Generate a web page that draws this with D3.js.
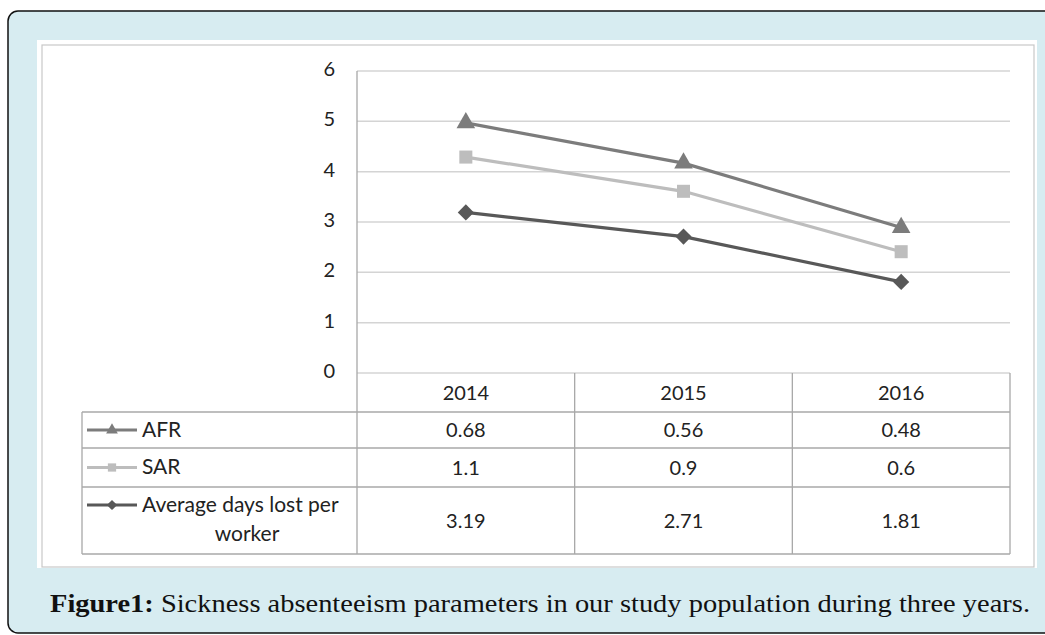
<!DOCTYPE html>
<html>
<head>
<meta charset="utf-8">
<script src="https://cdn.jsdelivr.net/npm/d3@7"></script>
<style>
  html, body { margin: 0; padding: 0; background: #fff; }
  svg { display: block; }
</style>
</head>
<body>
<div id="chart"></div>
<script>
const years = ['2014', '2015', '2016'];
const seriesNames = ['AFR', 'SAR', 'Average days lost per worker'];
const afr = [0.68, 0.56, 0.48];
const sar = [1.1, 0.9, 0.6];
const avgDays = [3.19, 2.71, 1.81];
const yTicks = [0, 1, 2, 3, 4, 5, 6];
const caption = 'Sickness absenteeism parameters in our study population during three years.';

const W = 1045, H = 635;
const svg = d3.select('#chart').append('svg')
  .attr('width', W)
  .attr('height', H);

// frame
svg.append('rect')
  .attr('x', 8).attr('y', 11)
  .attr('width', W + 20).attr('height', H - 13)
  .attr('rx', 10)
  .attr('fill', '#d7ecf1')
  .attr('stroke', '#111').attr('stroke-width', 1.5);

svg.append('rect')
  .attr('x', 37).attr('y', 40)
  .attr('width', 1000).attr('height', 528)
  .attr('fill', '#fff');

svg.append('rect')
  .attr('x', 42).attr('y', 45)
  .attr('width', 992).attr('height', 522)
  .attr('fill', 'none')
  .attr('stroke', '#c8c8c8').attr('stroke-width', 1.2);

// stacked line chart: avg at bottom, then SAR, then AFR
const rows = years.map((yr, i) => ({ year: yr, avg: avgDays[i], sar: sar[i], afr: afr[i] }));
const stack = d3.stack().keys(['avg', 'sar', 'afr'])(rows);

const x = d3.scaleBand().domain(years).range([357, 1010]);
const y = d3.scaleLinear().domain([0, 6]).range([373, 71]);

const font = 'Lato, "Open Sans", sans-serif';
const fs = 20;
const fsLabel = 21;

// gridlines
svg.append('g')
  .selectAll('line')
  .data(yTicks)
  .join('line')
  .attr('x1', 357).attr('x2', 1010)
  .attr('y1', d => y(d)).attr('y2', d => y(d))
  .attr('stroke', '#d4d4d4').attr('stroke-width', 1.5);

// y tick labels
svg.append('g')
  .selectAll('text')
  .data(yTicks)
  .join('text')
  .attr('x', 335)
  .attr('y', d => y(d) - 2)
  .attr('dy', '0.35em')
  .attr('text-anchor', 'end')
  .attr('font-family', font).attr('font-size', fs)
  .attr('fill', '#222')
  .text(d => d);

// data table
const rowTops = [412, 448, 487];
const rowBottoms = [448, 487, 554];
const tableLeft = 82;
const lineColor = '#a8a8a8';
const tbl = svg.append('g').attr('stroke', lineColor).attr('stroke-width', 1.3);

tbl.append('line').attr('x1', 357).attr('x2', 357).attr('y1', 71).attr('y2', 554);
x.domain().forEach(d => {
  tbl.append('line')
    .attr('x1', x(d) + x.bandwidth()).attr('x2', x(d) + x.bandwidth())
    .attr('y1', 373).attr('y2', 554);
});
tbl.append('line').attr('x1', tableLeft).attr('x2', tableLeft).attr('y1', 412).attr('y2', 554);
rowTops.concat([554]).forEach(v => {
  tbl.append('line').attr('x1', tableLeft).attr('x2', 1010).attr('y1', v).attr('y2', v);
});

// header
svg.append('g')
  .selectAll('text')
  .data(years)
  .join('text')
  .attr('x', d => x(d) + x.bandwidth() / 2)
  .attr('y', 393)
  .attr('dy', '0.35em')
  .attr('text-anchor', 'middle')
  .attr('font-family', font).attr('font-size', fs)
  .attr('fill', '#222')
  .text(d => d);

const colors = ['#7c7c7c', '#bdbdbd', '#585858'];
const tableData = [afr, sar, avgDays];
const symbols = [d3.symbolTriangle, d3.symbolSquare, d3.symbolSquare];
const symbolSizes = [150, 170, 130];
const symbolRot = [0, 0, 45];

tableData.forEach((vals, r) => {
  const cy = (rowTops[r] + rowBottoms[r]) / 2;
  svg.append('g')
    .selectAll('text')
    .data(vals)
    .join('text')
    .attr('x', (d, i) => x(years[i]) + x.bandwidth() / 2)
    .attr('y', cy)
    .attr('dy', '0.35em')
    .attr('text-anchor', 'middle')
    .attr('font-family', font).attr('font-size', fs)
    .attr('fill', '#222')
    .text(d => d);

  // legend key
  const ky = r === 2 ? rowTops[r] + 18 : cy;
  svg.append('line')
    .attr('x1', 87).attr('x2', 137).attr('y1', ky).attr('y2', ky)
    .attr('stroke', colors[r]).attr('stroke-width', 3);
  svg.append('path')
    .attr('d', d3.symbol().type(symbols[r]).size(symbolSizes[r] * 0.4)())
    .attr('transform', `translate(112,${ky}) rotate(${symbolRot[r]})`)
    .attr('fill', colors[r]);
});

// legend labels
const legendText = (tx, ty, t, anchor) => svg.append('text')
  .attr('x', tx).attr('y', ty).attr('dy', '0.35em')
  .attr('text-anchor', anchor || 'start')
  .attr('font-family', font).attr('font-size', fsLabel).attr('fill', '#222').text(t);
legendText(142, 430, seriesNames[0]);
legendText(142, 467, seriesNames[1]);
legendText(142, 505, 'Average days lost per');
legendText(247, 534, 'worker', 'middle');

// lines
const lineGen = d3.line()
  .x(d => x(d.data.year) + x.bandwidth() / 2)
  .y(d => y(d[1]));

const seriesOrder = [
  { layer: stack[0], color: colors[2], symbol: symbols[2], size: symbolSizes[2], rot: symbolRot[2] },
  { layer: stack[1], color: colors[1], symbol: symbols[1], size: symbolSizes[1], rot: symbolRot[1] },
  { layer: stack[2], color: colors[0], symbol: symbols[0], size: symbolSizes[0], rot: symbolRot[0] }
];

seriesOrder.forEach(s => {
  svg.append('path')
    .datum(s.layer)
    .attr('d', lineGen)
    .attr('fill', 'none')
    .attr('stroke', s.color)
    .attr('stroke-width', 3.2);
  svg.append('g')
    .selectAll('path')
    .data(s.layer)
    .join('path')
    .attr('d', d3.symbol().type(s.symbol).size(s.size)())
    .attr('transform', d => `translate(${x(d.data.year) + x.bandwidth() / 2},${y(d[1])}) rotate(${s.rot})`)
    .attr('fill', s.color);
});

// caption
const cap = svg.append('text')
  .attr('x', 50).attr('y', 612)
  .attr('font-family', '"Liberation Serif", "DejaVu Serif", serif')
  .attr('font-size', 26)
  .attr('fill', '#111')
  .attr('textLength', 980)
  .attr('lengthAdjust', 'spacingAndGlyphs');
cap.append('tspan').attr('font-weight', 'bold').text('Figure1:');
cap.append('tspan').text(' ' + caption);
</script>
</body>
</html>
